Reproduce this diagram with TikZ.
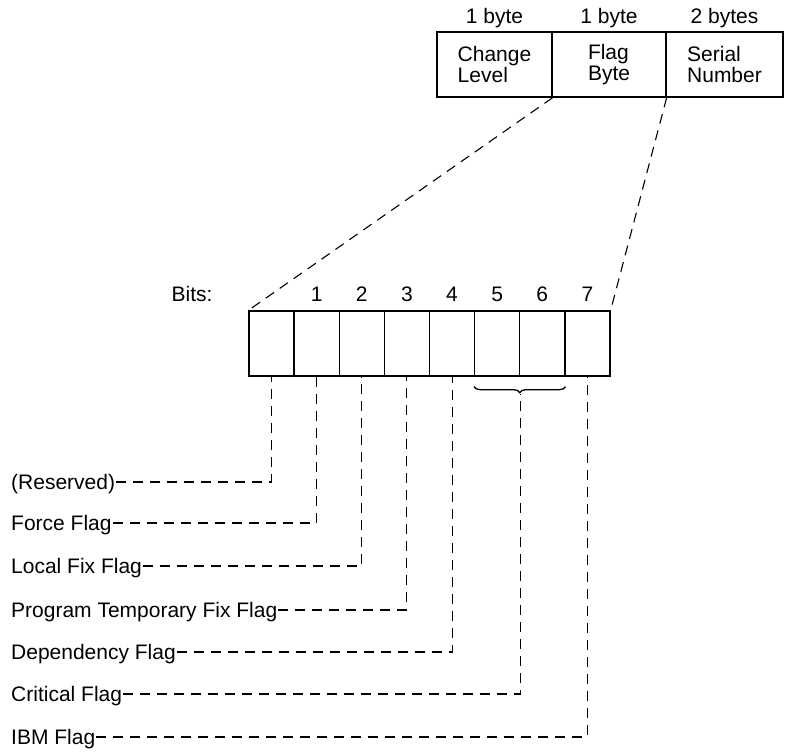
\documentclass[tikz,border=0pt]{standalone}
\usepackage{fontspec}
\setmainfont{Liberation Sans}
\usetikzlibrary{decorations.pathreplacing}
\begin{document}
\begin{tikzpicture}[x=1pt,y=-1pt,
  font=\fontsize{21}{21}\selectfont,
  cell/.style={draw, line width=1.3pt, minimum height=65pt, inner sep=0pt},
  bitcell/.style={cell, minimum width=45.1pt},
  captxt/.style={inner sep=0pt, text height=15pt, text depth=0pt},
  lbl/.style={anchor=west, inner xsep=1pt, inner ysep=0pt, text height=15pt, text depth=0pt},
  dl/.style={dash pattern=on 10pt off 7pt, line width=1.1pt}]
\useasboundingbox (0,0) rectangle (791,751);
% top record
\node[cell, minimum width=115pt, align=left] (cl) at (494.5,64.5) {Change\\Level};
\node[cell, minimum width=114pt, align=left] (fb) at (609,64.5) {Flag\\Byte};
\node[cell, minimum width=117pt, align=left] (sn) at (724.5,64.5) {Serial\\Number};
\node[captxt] (s1) at (494.5,16.5) {1 byte};
\node[captxt] (s2) at (609,16.5) {1 byte};
\node[captxt] (s3) at (724.5,16.5) {2 bytes};
% bits
\foreach \i in {0,...,7} {
  \node[bitcell] (b\i) at ({249+45.125*(\i+0.5)},343.5) {};
}
\node[captxt] (bits) at (192,294) {Bits:};
\foreach \i in {1,...,7} {
  \node[captxt] (n\i) at ({249+45.125*(\i+0.5)},294) {\i};
}
% zoom lines
\draw[dl] (cl.south east) -- (b0.north west);
\draw[dl] (fb.south east) -- (b7.north east);
% brace
\draw[line width=1.3pt, decorate, decoration={brace, mirror, amplitude=6pt}]
  ([yshift=-10pt]b5.south west) -- ([yshift=-10pt]b6.south east);
\coordinate (brtip) at ([yshift=-17pt]b5.south east);
% labels
\node[lbl] (res) at (10,482) {(Reserved)};
\node[lbl] (frc) at (10,523) {Force Flag};
\node[lbl] (lfx) at (10,566) {Local Fix Flag};
\node[lbl] (ptf) at (10,610) {Program Temporary Fix Flag};
\node[lbl] (dep) at (10,652) {Dependency Flag};
\node[lbl] (crt) at (10,694) {Critical Flag};
\node[lbl] (ibm) at (10,737) {IBM Flag};
\draw[dl] (res.east) -| (b0.south);
\draw[dl] (frc.east) -| (b1.south);
\draw[dl] (lfx.east) -| (b2.south);
\draw[dl] (ptf.east) -| (b3.south);
\draw[dl] (dep.east) -| (b4.south);
\draw[dl] (crt.east) -| (brtip);
\draw[dl] (ibm.east) -| (b7.south);
\end{tikzpicture}
\end{document}
